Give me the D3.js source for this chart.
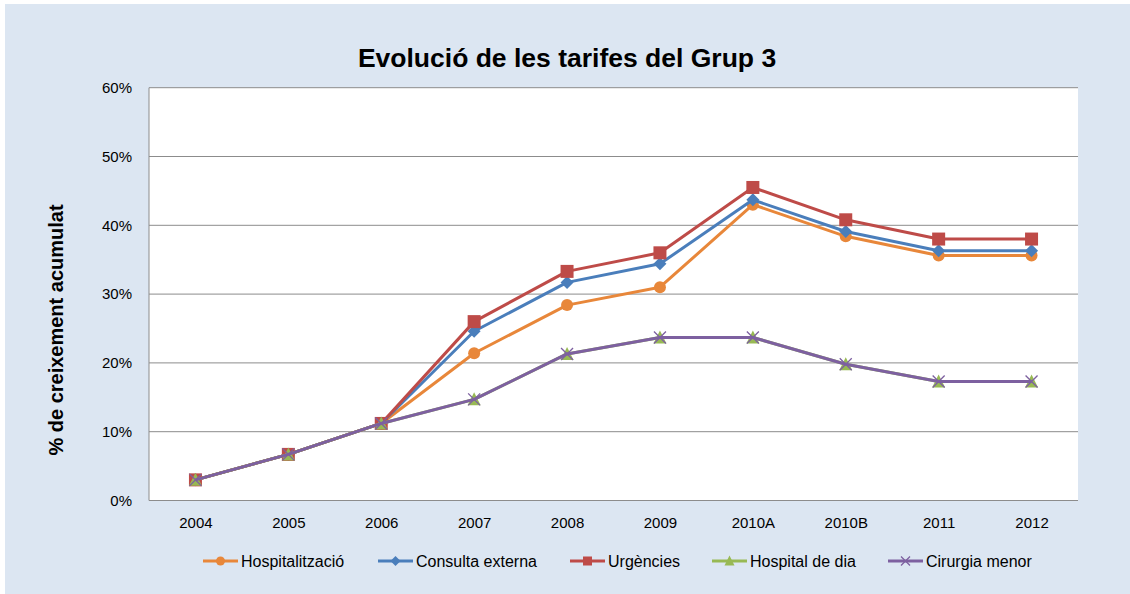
<!DOCTYPE html>
<html>
<head>
<meta charset="utf-8">
<script src="https://cdn.jsdelivr.net/npm/d3@7"></script>
<style>
body { margin: 0; background: #fff; }
text { font-family: "Liberation Sans", Arial, sans-serif; }
</style>
</head>
<body>
<script>
var years = ["2004", "2005", "2006", "2007", "2008", "2009", "2010A", "2010B", "2011", "2012"];

var hospitalitzacio = [3.0, 6.7, 11.2, 21.4, 28.4, 31.0, 43.0, 38.4, 35.6, 35.6];
var consultaExterna = [3.0, 6.7, 11.2, 24.6, 31.7, 34.4, 43.7, 39.1, 36.3, 36.3];
var urgencies       = [3.0, 6.7, 11.2, 26.0, 33.3, 36.0, 45.5, 40.8, 38.0, 38.0];
var hospitalDeDia   = [3.0, 6.7, 11.2, 14.7, 21.3, 23.7, 23.7, 19.8, 17.3, 17.3];
var cirurgiaMenor   = [3.0, 6.7, 11.2, 14.7, 21.3, 23.7, 23.7, 19.8, 17.3, 17.3];

var seriesNames = ["Hospitalització", "Consulta externa", "Urgències", "Hospital de dia", "Cirurgia menor"];
var yTicks = [0, 10, 20, 30, 40, 50, 60];

var series = [
	{ name: seriesNames[0], values: hospitalitzacio, color: "#E8873A", symbol: "circle" },
	{ name: seriesNames[1], values: consultaExterna, color: "#4A7EBB", symbol: "diamond" },
	{ name: seriesNames[2], values: urgencies, color: "#BE4B48", symbol: "square" },
	{ name: seriesNames[3], values: hospitalDeDia, color: "#98B954", symbol: "triangle" },
	{ name: seriesNames[4], values: cirurgiaMenor, color: "#7D60A0", symbol: "x" }
];

var width = 1130,
	height = 594;

var plot = { left: 149, right: 1078, top: 87.7, bottom: 500.5 };

var svg = d3.select("body").append("svg")
	.attr("width", width)
	.attr("height", height);

// background panel
svg.append("rect")
	.attr("x", 5).attr("y", 4)
	.attr("width", width - 5).attr("height", height - 4)
	.attr("fill", "#DCE6F2");

svg.append("rect")
	.attr("x", plot.left).attr("y", plot.top)
	.attr("width", plot.right - plot.left).attr("height", plot.bottom - plot.top)
	.attr("fill", "#fff");

var x = d3.scalePoint().domain(years).range([plot.left, plot.right]).padding(0.5);
var y = d3.scaleLinear().domain([0, 60]).range([plot.bottom, plot.top]);

// gridlines
svg.append("g").selectAll("line")
	.data(yTicks)
	.enter().append("line")
	.attr("x1", plot.left).attr("x2", plot.right)
	.attr("y1", function (d) { return y(d); })
	.attr("y2", function (d) { return y(d); })
	.attr("stroke", "#8C8C8C")
	.attr("stroke-width", 1);

// left axis line
svg.append("line")
	.attr("x1", plot.left).attr("x2", plot.left)
	.attr("y1", plot.top).attr("y2", plot.bottom)
	.attr("stroke", "#8C8C8C");

var yAxis = svg.append("g")
	.attr("transform", "translate(" + plot.left + ",0)")
	.call(d3.axisLeft(y).tickValues(yTicks).tickSize(0).tickPadding(17)
		.tickFormat(function (d) { return d + "%"; }));
yAxis.select(".domain").remove();
yAxis.selectAll("text").attr("font-size", 15).attr("fill", "#000")
	.style("font-family", "'Liberation Sans', Arial, sans-serif");

var xAxis = svg.append("g")
	.attr("transform", "translate(0," + plot.bottom + ")")
	.call(d3.axisBottom(x).tickSize(0).tickPadding(17));
xAxis.select(".domain").remove();
xAxis.selectAll("text").attr("font-size", 15).attr("fill", "#000")
	.style("font-family", "'Liberation Sans', Arial, sans-serif");

// title
svg.append("text")
	.attr("x", 567).attr("y", 67)
	.attr("text-anchor", "middle")
	.attr("font-size", 26.5)
	.attr("font-weight", "bold")
	.text("Evolució de les tarifes del Grup 3");

svg.append("text")
	.attr("transform", "translate(63,330)rotate(-90)")
	.attr("text-anchor", "middle")
	.attr("font-size", 20)
	.attr("font-weight", "bold")
	.text("% de creixement acumulat");

var line = d3.line()
	.x(function (d, i) { return x(years[i]); })
	.y(function (d) { return y(d); });

function drawMarker(g, s, size) {
	if (s.symbol === "x") {
		var h = size / 2;
		g.append("path")
			.attr("d", "M" + (-h) + "," + (-h) + "L" + h + "," + h + "M" + (-h) + "," + h + "L" + h + "," + (-h))
			.attr("stroke", s.color).attr("stroke-width", 1.3).attr("fill", "none");
	} else if (s.symbol === "circle") {
		g.append("circle").attr("r", size / 2).attr("fill", s.color);
	} else if (s.symbol === "square") {
		g.append("rect").attr("x", -size / 2).attr("y", -size / 2)
			.attr("width", size).attr("height", size).attr("fill", s.color);
	} else if (s.symbol === "diamond") {
		var d = size / 2 + 0.5;
		g.append("path").attr("d", "M0," + (-d) + "L" + d + ",0L0," + d + "L" + (-d) + ",0Z")
			.attr("fill", s.color);
	} else if (s.symbol === "triangle") {
		var t = size / 2;
		g.append("path").attr("d", "M0," + (-t - 1) + "L" + (t + 0.5) + "," + t + "L" + (-t - 0.5) + "," + t + "Z")
			.attr("fill", s.color);
	}
}

series.forEach(function (s) {
	var g = svg.append("g");
	g.append("path")
		.datum(s.values)
		.attr("d", line)
		.attr("fill", "none")
		.attr("stroke", s.color)
		.attr("stroke-width", 3)
		.attr("stroke-linejoin", "round");
	s.values.forEach(function (v, i) {
		var m = g.append("g").attr("transform", "translate(" + x(years[i]) + "," + y(v) + ")");
		drawMarker(m, s, s.symbol === "square" ? 13 : 12);
	});
});

// legend
var legendX = [203, 378, 570, 712, 888];
var legend = svg.append("g").selectAll("g")
	.data(series)
	.enter().append("g")
	.attr("transform", function (d, i) { return "translate(" + legendX[i] + ",561)"; });

legend.append("line")
	.attr("x1", 0).attr("x2", 35)
	.attr("stroke", function (d) { return d.color; })
	.attr("stroke-width", 3);

legend.each(function (d) {
	var m = d3.select(this).append("g").attr("transform", "translate(17.5,0)");
	drawMarker(m, d, 9);
});

legend.append("text")
	.attr("x", 38)
	.attr("y", 6)
	.attr("font-size", 16)
	.text(function (d) { return d.name; });
</script>
</body>
</html>
